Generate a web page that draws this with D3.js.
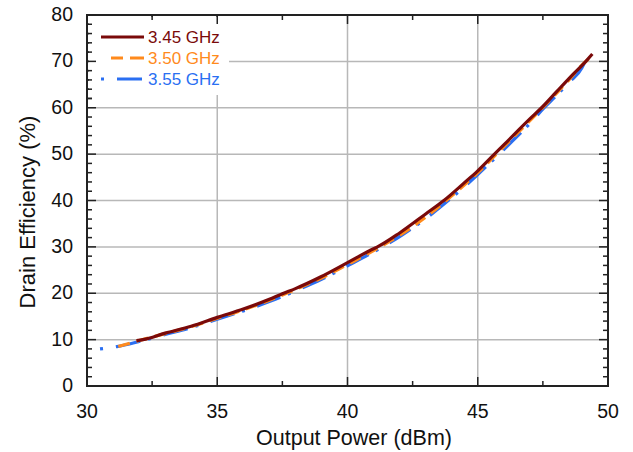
<!DOCTYPE html>
<html>
<head>
<meta charset="utf-8">
<script src="https://cdn.jsdelivr.net/npm/d3@7/dist/d3.min.js"></script>
<style>
  body { margin: 0; padding: 0; background: #fff; }
  svg text { font-family: "Liberation Sans", Arial, sans-serif; }
</style>
</head>
<body>
<div id="chart"></div>
<script>
// data (output power dBm, drain efficiency %)
var p345 = [31.9, 32.15, 33, 34, 35, 36, 37, 37.5, 38, 39, 40, 41, 41.15, 42, 43, 43.7, 44.5, 45, 45.64, 46, 47, 47.45, 48, 48.5, 49.15, 49.4];
var e345 = [9.8, 10, 11.4, 12.9, 14.8, 16.6, 18.7, 19.9, 21.0, 23.6, 26.6, 29.6, 30, 33.0, 37.1, 40, 43.9, 46.4, 50, 52.0, 57.6, 60, 63.3, 66.3, 70, 71.6];

var p350 = [31.2, 32, 33, 34, 35, 36, 37, 38, 39, 40, 41, 42, 43, 44, 45, 46, 47, 48, 48.5, 49, 49.35];
var e350 = [8.5, 9.8, 11.3, 12.8, 14.6, 16.4, 18.5, 20.8, 23.3, 26.2, 29.2, 32.5, 36.4, 41.0, 46.0, 51.6, 57.2, 63.0, 66.0, 69.2, 71.0];

var p355 = [30.5, 31.15, 32, 33, 34, 35, 36, 37, 38, 39, 40, 41, 42, 43, 44, 45, 46, 47, 47.55, 48, 48.5, 49, 49.1];
var e355 = [8.0, 8.5, 9.6, 11.1, 12.6, 14.4, 16.2, 18.2, 20.5, 23.0, 25.9, 28.9, 32.2, 36.1, 40.6, 45.6, 51.0, 56.6, 60, 62.5, 65.5, 68.6, 69.8];

var seriesNames = ["3.45 GHz", "3.50 GHz", "3.55 GHz"];
var seriesColors = ["#7a0a0a", "#ff8a1c", "#2a6ff2"];
var seriesDash = [null, "12,7", "3,13,25,8"];
var legendDash = [null, "0,10,12,7,14,100", "3,13,25,8"];

var xTicks = [30, 35, 40, 45, 50];
var yTicks = [0, 10, 20, 30, 40, 50, 60, 70, 80];

var W = 633, H = 452;
var mLeft = 87, mRight = 608, mTop = 15, mBottom = 386;

var svg = d3.select("#chart").append("svg")
    .attr("width", W)
    .attr("height", H);

var x = d3.scaleLinear().domain([30, 50]).range([mLeft, mRight]);
var y = d3.scaleLinear().domain([0, 80]).range([mBottom, mTop]);

// grid
svg.append("g").selectAll("line")
    .data(xTicks.slice(1, -1))
    .enter().append("line")
    .attr("x1", d => x(d)).attr("x2", d => x(d))
    .attr("y1", mTop).attr("y2", mBottom)
    .attr("stroke", "#b8b8b8").attr("stroke-width", 1.5);

svg.append("g").selectAll("line")
    .data(yTicks.slice(1, -1))
    .enter().append("line")
    .attr("x1", mLeft).attr("x2", mRight)
    .attr("y1", d => y(d)).attr("y2", d => y(d))
    .attr("stroke", "#b8b8b8").attr("stroke-width", 1.5);

// minor + major inside ticks
var xMinor = d3.range(30, 50.01, 2.5);
var yMinor = d3.range(0, 80.01, 2);

function tickLen(v, step) { return Math.abs(v / step - Math.round(v / step)) < 1e-6 ? 9 : 5; }

var tk = svg.append("g").attr("stroke", "#222").attr("stroke-width", 1.5);
xMinor.forEach(function (v) {
    var l = tickLen(v, 5);
    tk.append("line").attr("x1", x(v)).attr("x2", x(v)).attr("y1", mBottom).attr("y2", mBottom - l);
    tk.append("line").attr("x1", x(v)).attr("x2", x(v)).attr("y1", mTop).attr("y2", mTop + l);
});
yMinor.forEach(function (v) {
    var l = tickLen(v, 10);
    tk.append("line").attr("x1", mLeft).attr("x2", mLeft + l).attr("y1", y(v)).attr("y2", y(v));
    tk.append("line").attr("x1", mRight).attr("x2", mRight - l).attr("y1", y(v)).attr("y2", y(v));
});

// curves
var line = d3.line()
    .x(d => x(d[0]))
    .y(d => y(d[1]))
    .curve(d3.curveMonotoneX);

var allP = [p345, p350, p355];
var allE = [e345, e350, e355];

var plot = svg.append("g");
for (var i = 2; i >= 0; i--) {
    var pts = allP[i].map((p, j) => [p, allE[i][j]]);
    plot.append("path")
        .datum(pts)
        .attr("d", line)
        .attr("fill", "none")
        .attr("stroke", seriesColors[i])
        .attr("stroke-width", 3.2)
        .attr("stroke-dasharray", seriesDash[i]);
}

// legend with white background
var lg = svg.append("g");
lg.append("rect")
    .attr("x", mLeft + 2).attr("y", mTop + 2)
    .attr("width", 140).attr("height", 78)
    .attr("fill", "#fff");

// frame
svg.append("rect")
    .attr("x", mLeft).attr("y", mTop)
    .attr("width", mRight - mLeft).attr("height", mBottom - mTop)
    .attr("fill", "none").attr("stroke", "#222").attr("stroke-width", 2);

// ticks under the legend box stay visible
var tk2 = svg.append("g").attr("stroke", "#222").attr("stroke-width", 1.5);
yMinor.filter(v => v >= 62).forEach(function (v) {
    tk2.append("line").attr("x1", mLeft).attr("x2", mLeft + tickLen(v, 10)).attr("y1", y(v)).attr("y2", y(v));
});
xMinor.filter(v => v <= 35).forEach(function (v) {
    tk2.append("line").attr("x1", x(v)).attr("x2", x(v)).attr("y1", mTop).attr("y2", mTop + tickLen(v, 5));
});

seriesNames.forEach(function (n, i) {
    var ly = 37 + i * 21;
    lg.append("line")
        .attr("x1", 101).attr("x2", 144)
        .attr("y1", ly).attr("y2", ly)
        .attr("stroke", seriesColors[i])
        .attr("stroke-width", 3.2)
        .attr("stroke-dasharray", legendDash[i]);
    lg.append("text")
        .attr("x", 148).attr("y", ly + 6)
        .attr("font-size", 17)
        .attr("fill", seriesColors[i])
        .text(n);
});

// tick labels
svg.append("g").selectAll("text")
    .data(xTicks)
    .enter().append("text")
    .attr("x", d => x(d)).attr("y", 418)
    .attr("text-anchor", "middle")
    .attr("font-size", 19.5).attr("fill", "#111")
    .text(d => d);

svg.append("g").selectAll("text")
    .data(yTicks)
    .enter().append("text")
    .attr("x", 73).attr("y", d => y(d) + 6)
    .attr("text-anchor", "end")
    .attr("font-size", 19.5).attr("fill", "#111")
    .text(d => d);

// axis titles
svg.append("text")
    .attr("x", 354).attr("y", 445)
    .attr("text-anchor", "middle").attr("font-size", 21.5).attr("fill", "#111")
    .text("Output Power (dBm)");

svg.append("text")
    .attr("transform", "translate(35,212) rotate(-90)")
    .attr("text-anchor", "middle").attr("font-size", 22).attr("fill", "#111")
    .text("Drain Efficiency (%)");
</script>
</body>
</html>
